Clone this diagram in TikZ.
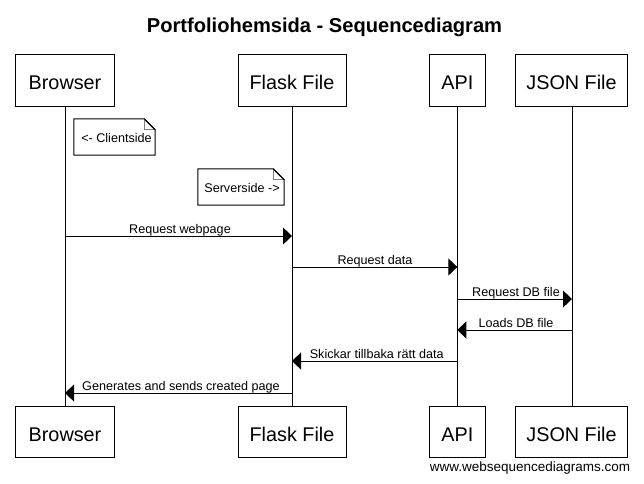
\documentclass[tikz,border=0pt]{standalone}
\usepackage{fontspec}
\setmainfont{Liberation Sans}
\usetikzlibrary{arrows.meta}
\begin{document}
\begin{tikzpicture}[x=1pt,y=-1pt,
  actor/.style={draw=black,line width=1pt,fill=white,minimum height=52pt,inner sep=0pt,
    font=\fontsize{19.8}{20}\selectfont,text height=18pt,text depth=0pt},
  life/.style={line width=1pt},
  msg/.style={line width=1pt,-{Triangle[length=9pt,width=17pt]}},
  lbl/.style={font=\fontsize{12.6}{13}\selectfont,anchor=base,inner sep=0pt},
  notebox/.style={minimum width=#1,minimum height=36pt,inner sep=0pt},
  noteline/.style={draw=black,line width=1pt,fill=white},
  fold/.style={draw=gray,line width=1pt}]
\useasboundingbox (0,0) rectangle (644,483);
\fill[white] (0,0) rectangle (644,483);
% title
\node[anchor=base,inner sep=0pt,font=\fontsize{20.1}{20}\selectfont\bfseries] (title) at (324.5,32) {Portfoliohemsida - Sequencediagram};
% actors top
\node[actor,minimum width=99pt] (bt) at (65,80) {Browser};
\node[actor,minimum width=108pt] (ft) at (292,80) {Flask File};
\node[actor,minimum width=56pt] (at) at (457.3,80) {API};
\node[actor,minimum width=112pt] (jt) at (571.5,80) {JSON File};
% actors bottom
\node[actor,minimum width=99pt,minimum height=51pt] (bb) at (65,432) {Browser};
\node[actor,minimum width=108pt,minimum height=51pt] (fb) at (292,432) {Flask File};
\node[actor,minimum width=56pt,minimum height=51pt] (ab) at (457.3,432) {API};
\node[actor,minimum width=112pt,minimum height=51pt] (jb) at (571.5,432) {JSON File};
% lifelines
\draw[life] (bt.south) -- (bb.north);
\draw[life] (ft.south) -- (fb.north);
\draw[life] (at.south) -- (ab.north);
\draw[life] ([xshift=0.5pt]jt.south) -- ([xshift=0.5pt]jb.north);
% notes
\node[notebox=81pt] (n1) at (114.5,137) {};
\draw[noteline] (n1.north west) -- ([xshift=-11pt]n1.north east) -- ([yshift=-11pt]n1.north east) -- (n1.south east) -- (n1.south west) -- cycle;
\draw[fold] ([xshift=-11pt]n1.north east) -- ([xshift=-11pt,yshift=-11pt]n1.north east) -- ([yshift=-11pt]n1.north east);
\draw[line width=1pt] ([xshift=-11pt]n1.north east) -- ([yshift=-11pt]n1.north east);
\node[lbl] (n1t) at (116.5,142.7) {<- Clientside};
\node[notebox=86pt] (n2) at (241,187) {};
\draw[noteline] (n2.north west) -- ([xshift=-11pt]n2.north east) -- ([yshift=-11pt]n2.north east) -- (n2.south east) -- (n2.south west) -- cycle;
\draw[fold] ([xshift=-11pt]n2.north east) -- ([xshift=-11pt,yshift=-11pt]n2.north east) -- ([yshift=-11pt]n2.north east);
\draw[line width=1pt] ([xshift=-11pt]n2.north east) -- ([yshift=-11pt]n2.north east);
\node[lbl] (n2t) at (242,192.7) {Serverside ->};
% message coordinates
\coordinate (m1a) at (65,236);   \coordinate (m1b) at (292,236);
\coordinate (m2a) at (292,267);  \coordinate (m2b) at (457.3,267);
\coordinate (m3a) at (457.3,299); \coordinate (m3b) at (572,299);
\coordinate (m4a) at (572,330);  \coordinate (m4b) at (457.3,330);
\coordinate (m5a) at (457.3,361); \coordinate (m5b) at (292,361);
\coordinate (m6a) at (292,393);  \coordinate (m6b) at (65,393);
\draw[msg] (m1a) -- (m1b);
\draw[msg] (m2a) -- (m2b);
\draw[msg] (m3a) -- (m3b);
\draw[msg] (m4a) -- (m4b);
\draw[msg] (m5a) -- (m5b);
\draw[msg] (m6a) -- (m6b);
\node[lbl] (l1) at (180,233) {Request webpage};
\node[lbl] (l2) at (375,264) {Request data};
\node[lbl] (l3) at (516,296) {Request DB file};
\node[lbl] (l4) at (516,327) {Loads DB file};
\node[lbl] (l5) at (376.7,358) {Skickar tillbaka rätt data};
\node[lbl] (l6) at (181,390) {Generates and sends created page};
% watermark
\node[anchor=base,inner sep=0pt,font=\fontsize{13.5}{14}\selectfont] (wm) at (530,471) {www.websequencediagrams.com};
\end{tikzpicture}
\end{document}
